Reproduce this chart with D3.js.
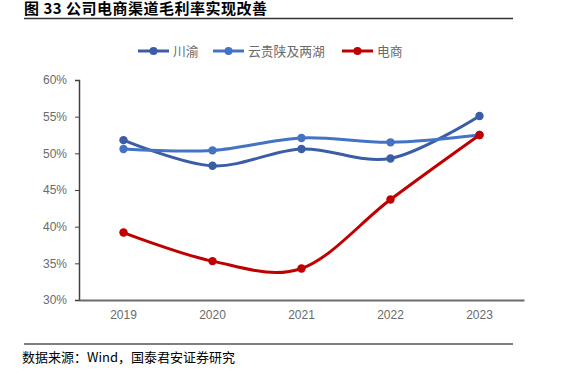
<!DOCTYPE html>
<html><head><meta charset="utf-8">
<script src="https://cdn.jsdelivr.net/npm/d3@7"></script>
<style>body{margin:0;background:#fff}svg{display:block}</style>
</head><body>
<svg id="c" width="563" height="380"></svg>
<script>
const years = ["2019","2020","2021","2022","2023"];
const chuanyu = [51.8, 48.3, 50.6, 49.3, 55.1];
const yungui = [50.6, 50.4, 52.1, 51.5, 52.5];
const dianshang = [39.2, 35.3, 34.3, 43.7, 52.5];
const seriesNames = ["川渝", "云贵陕及两湖", "电商"];
const yTicks = [30, 35, 40, 45, 50, 55, 60];
const titleText = "图 33 公司电商渠道毛利率实现改善";
const sourceText = "数据来源：Wind，国泰君安证券研究";

const colors = ["#3A5DA5", "#4472C4", "#C00000"];
const series = [chuanyu, yungui, dianshang];

const svg = d3.select("#c");
const x = d3.scaleBand().domain(years).range([79, 524]);
const y = d3.scaleLinear().domain([30, 60]).range([300, 80]);

// title
svg.append("text").attr("x", 24).attr("y", 14)
  .attr("font-family", "'Noto Sans CJK SC'").attr("font-weight", "bold")
  .attr("font-size", 15).attr("letter-spacing", 0.5).attr("fill", "#000").text(titleText);
svg.append("line").attr("x1", 24).attr("x2", 513).attr("y1", 18.5).attr("y2", 18.5)
  .attr("stroke", "#333").attr("stroke-width", 1.5);

// y axis
const yAxis = svg.append("g").attr("transform", "translate(79,0)")
  .call(d3.axisLeft(y).tickValues(yTicks).tickFormat(d => d + "%").tickSize(4).tickPadding(8));
yAxis.select(".domain").attr("stroke", "#404040").attr("stroke-width", 1.5);
yAxis.selectAll(".tick line").attr("stroke", "#404040");
yAxis.selectAll("text").attr("font-family", "'Liberation Sans', Arial").attr("font-size", 12).attr("fill", "#6b6b6b");

// x axis
const xAxis = svg.append("g").attr("transform", "translate(0,300)")
  .call(d3.axisBottom(x).tickSize(0).tickPadding(10));
xAxis.select(".domain").attr("stroke", "#6b6b6b").attr("stroke-width", 2);
xAxis.selectAll("text").attr("font-family", "'Liberation Sans', Arial").attr("font-size", 12).attr("fill", "#6b6b6b");

// lines
const cx = d => x(d) + x.bandwidth() / 2;
const line = d3.line().x((d, i) => cx(years[i])).y(d => y(d)).curve(d3.curveCardinal.tension(0));
series.forEach((s, k) => {
  svg.append("path").datum(s).attr("d", line).attr("fill", "none")
    .attr("stroke", colors[k]).attr("stroke-width", 3);
  svg.selectAll(null).data(s).enter().append("circle")
    .attr("cx", (d, i) => cx(years[i])).attr("cy", d => y(d)).attr("r", 4.2)
    .attr("fill", colors[k]);
});

// legend
const legX = [138, 213, 342];
seriesNames.forEach((n, k) => {
  const g = svg.append("g").attr("transform", `translate(${legX[k]},51)`);
  g.append("line").attr("x1", 0).attr("x2", 31).attr("y1", 0).attr("y2", 0)
    .attr("stroke", colors[k]).attr("stroke-width", 3);
  g.append("circle").attr("cx", 15.5).attr("cy", 0).attr("r", 4).attr("fill", colors[k]);
  g.append("text").attr("x", 35).attr("y", 4.5)
    .attr("font-family", "'Noto Sans CJK SC'").attr("font-size", 12.8).attr("fill", "#6b6b6b")
    .text(n);
});

// footer
svg.append("line").attr("x1", 24).attr("x2", 513).attr("y1", 344).attr("y2", 344)
  .attr("stroke", "#555").attr("stroke-width", 1.5);
svg.append("text").attr("x", 22).attr("y", 362)
  .attr("font-family", "'Noto Sans CJK SC'").attr("font-size", 13).attr("fill", "#000")
  .text(sourceText);
</script>
</body></html>
